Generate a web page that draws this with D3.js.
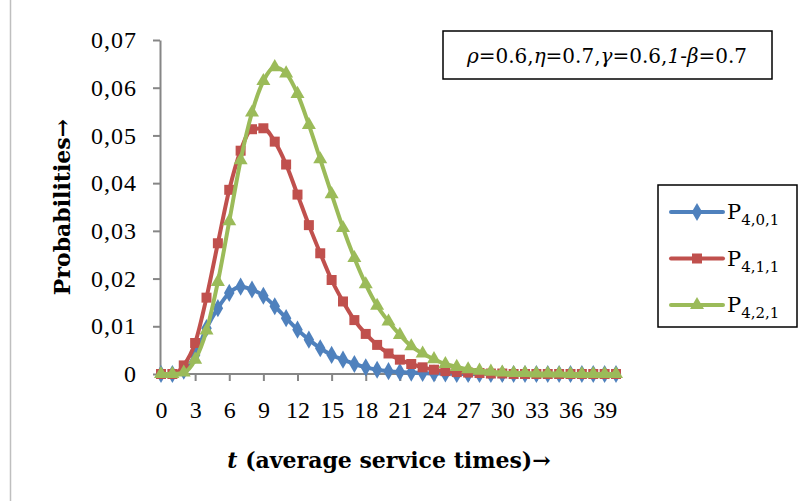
<!DOCTYPE html>
<html>
<head>
<meta charset="utf-8">
<script src="https://cdn.jsdelivr.net/npm/d3@7"></script>
<style>
  body { margin: 0; background: #fff; }
  text { font-family: "Liberation Serif", "DejaVu Serif", serif; fill: #000; }
</style>
</head>
<body>
<svg id="chart" width="802" height="501"></svg>
<script>
// service time categories 0..40
var times = [0,1,2,3,4,5,6,7,8,9,10,11,12,13,14,15,16,17,18,19,20,
             21,22,23,24,25,26,27,28,29,30,31,32,33,34,35,36,37,38,39,40];

var p401 = [0,0,0.0007,0.004,0.0096,0.0138,0.017,0.0183,0.0177,0.0164,0.0142,
            0.0117,0.0093,0.0072,0.0054,0.004,0.003,0.0021,0.0014,0.0009,0.0006,
            0.0004,0.0003,0.0002,0.0001,0.0001,0,0,0,0,0,
            0,0,0,0,0,0,0,0,0,0];
var p411 = [0,0,0.0018,0.0065,0.016,0.0274,0.0386,0.0468,0.0513,0.0515,0.0487,
            0.0439,0.0376,0.0312,0.0253,0.0197,0.0152,0.0113,0.0084,0.0061,0.0043,
            0.003,0.0021,0.0014,0.0009,0.0006,0.0004,0.0003,0.0002,0.0001,0.0001,
            0,0,0,0,0,0,0,0,0,0];
var p421 = [0,0,0.0003,0.003,0.0091,0.0193,0.032,0.0448,0.0548,0.0614,0.0643,
            0.063,0.0587,0.0522,0.045,0.0377,0.0306,0.0243,0.0188,0.0143,0.011,
            0.0082,0.0058,0.0043,0.0031,0.0021,0.0015,0.001,0.0007,0.0005,0.0003,
            0.0002,0.0002,0.0001,0.0001,0.0001,0,0,0,0,0];

var yTicks = [0,0.01,0.02,0.03,0.04,0.05,0.06,0.07];
var xTickLabels = [0,3,6,9,12,15,18,21,24,27,30,33,36,39];

var series = [
  {name: "4,0,1", values: p401, color: "#4F81BD", marker: "diamond"},
  {name: "4,1,1", values: p411, color: "#C0504D", marker: "square"},
  {name: "4,2,1", values: p421, color: "#9BBB59", marker: "triangle"}
];

var svg = d3.select("#chart");

// outer chart border
svg.append("rect")
  .attr("x", 10.5).attr("y", -2).attr("width", 800).attr("height", 510)
  .attr("fill", "none").attr("stroke", "#bfbfbf").attr("stroke-width", 1.5);

var x = d3.scalePoint().domain(times).range([161, 616]);
var y = d3.scaleLinear().domain([0, 0.07]).range([374, 40]);

var axisColor = "#868686";

var xAxis = svg.append("g")
  .attr("transform", "translate(0,374)")
  .call(d3.axisBottom(x).tickValues(xTickLabels).tickSize(7).tickSizeOuter(0).tickPadding(20));
xAxis.select(".domain").attr("stroke", axisColor).attr("stroke-width", 2)
  .attr("d", "M160,0H620");
xAxis.selectAll(".tick line").attr("stroke", axisColor).attr("stroke-width", 2);
xAxis.selectAll(".tick").filter(function(d) { return d === 0; }).select("line").remove();
xAxis.selectAll(".tick text").style("font-size", "24px").style("font-family", "Liberation Serif");

var yAxis = svg.append("g")
  .attr("transform", "translate(160,0)")
  .call(d3.axisLeft(y).tickValues(yTicks).tickSize(7).tickSizeOuter(0).tickPadding(16)
    .tickFormat(function(d) { return d === 0 ? "0" : d3.format(".2f")(d).replace(".", ","); }));
yAxis.select(".domain").attr("stroke", axisColor).attr("stroke-width", 2);
yAxis.selectAll(".tick line").attr("stroke", axisColor).attr("stroke-width", 2);
yAxis.selectAll(".tick text").style("font-size", "24px").style("font-family", "Liberation Serif")
  .attr("letter-spacing", "1px");

// axis titles
svg.append("text")
  .attr("transform", "translate(70,207) rotate(-90)")
  .attr("text-anchor", "middle")
  .style("font-family", "DejaVu Serif")
  .style("font-size", "22px").style("font-weight", "bold")
  .text("Probabilities→");

var xt = svg.append("text")
  .attr("x", 389).attr("y", 468)
  .attr("text-anchor", "middle")
  .style("font-family", "DejaVu Serif")
  .style("font-size", "22px").style("font-weight", "bold");
xt.append("tspan").style("font-style", "italic").text("t");
xt.append("tspan").text(" (average service times)→");

var symbols = {
  diamond: d3.symbol().type(d3.symbolDiamond).size(95),
  square: d3.symbol().type(d3.symbolSquare).size(100),
  triangle: d3.symbol().type(d3.symbolTriangle).size(85)
};

var line = d3.line()
  .x(function(d, i) { return x(times[i]); })
  .y(function(d) { return y(d); })
  .curve(d3.curveMonotoneX);

series.forEach(function(s) {
  var g = svg.append("g");
  g.append("path")
    .datum(s.values)
    .attr("d", line)
    .attr("fill", "none")
    .attr("stroke", s.color)
    .attr("stroke-width", 4)
    .attr("stroke-linejoin", "round");
  g.selectAll("path.m")
    .data(s.values)
    .enter().append("path")
    .attr("class", "m")
    .attr("d", symbols[s.marker])
    .attr("transform", function(d, i) { return "translate(" + x(times[i]) + "," + y(d) + ")"; })
    .attr("fill", s.color);
});

// parameter box
svg.append("rect")
  .attr("x", 443).attr("y", 31).attr("width", 329).attr("height", 48)
  .attr("fill", "#fff").attr("stroke", "#000").attr("stroke-width", 1.5);
var pt = svg.append("text")
  .attr("x", 607).attr("y", 63)
  .attr("text-anchor", "middle")
  .style("font-family", "DejaVu Serif")
  .style("font-size", "20px");
[["ρ", true], ["=0.6,", false], ["η", true], ["=0.7,", false], ["γ", true], ["=0.6,", false],
 ["1", true], ["-", false], ["β", true], ["=0.7", false]].forEach(function(p) {
  pt.append("tspan").style("font-style", p[1] ? "italic" : "normal").text(p[0]);
});

// legend
var legend = svg.append("g");
legend.append("rect")
  .attr("x", 658).attr("y", 185).attr("width", 139).attr("height", 142)
  .attr("fill", "#fff").attr("stroke", "#000").attr("stroke-width", 1.5);
series.forEach(function(s, i) {
  var ly = 212 + i * 46.5;
  legend.append("line")
    .attr("x1", 671).attr("x2", 723).attr("y1", ly).attr("y2", ly)
    .attr("stroke", s.color).attr("stroke-width", 4).attr("stroke-linecap", "round");
  legend.append("path")
    .attr("d", symbols[s.marker])
    .attr("transform", "translate(697," + ly + ")")
    .attr("fill", s.color);
  var lt = legend.append("text")
    .attr("x", 727).attr("y", ly + 7)
    .style("font-family", "DejaVu Serif")
    .style("font-size", "21px");
  lt.append("tspan").text("P");
  lt.append("tspan").attr("dy", 6).style("font-size", "15px").text(s.name);
});
</script>
</body>
</html>
